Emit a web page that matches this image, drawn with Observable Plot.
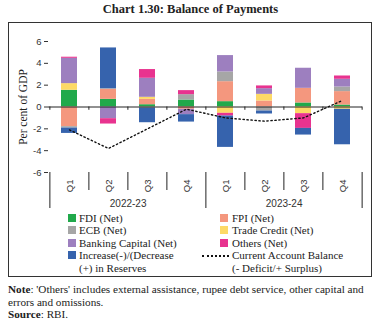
<!DOCTYPE html>
<html><head><meta charset="utf-8">
<script src="https://cdn.jsdelivr.net/npm/d3@7"></script>
<script src="https://cdn.jsdelivr.net/npm/@observablehq/plot@0.6"></script>
<style>
body{margin:0;background:#fff;}
#root{position:relative;width:381px;height:336px;font-family:"Liberation Serif",serif;color:#222;overflow:hidden;}
#title{position:absolute;top:2px;left:0;width:381px;text-align:center;font-weight:bold;font-size:12.5px;}
#box{position:absolute;left:8px;top:22px;width:362px;height:253px;border:1px solid #333;}
#chart{position:absolute;left:0;top:23px;}
#legend{position:absolute;top:212px;left:0;width:381px;font-size:11px;line-height:12.4px;}
.col{position:absolute;top:0;}
.item{display:flex;align-items:flex-start;}
.key{position:relative;height:12.4px;flex:none;}
.sw{position:absolute;top:2px;width:8px;height:8px;}
.dash{position:absolute;top:6px;left:0;width:27px;border-top:2px dotted #111;}
#notes{position:absolute;top:283px;left:8px;width:373px;font-size:11.2px;line-height:12.5px;white-space:nowrap;}
</style></head>
<body><div id="root">
<div id="title">Chart 1.30: Balance of Payments</div>
<div id="box"></div>
<div id="chart"></div>
<div id="legend"></div>
<div id="notes"><b>Note</b>: 'Others' includes external assistance, rupee debt service, other capital and<br>errors and omissions.<br><b>Source</b>: RBI.</div>
</div>
<script>
const years = ["2022-23", "2023-24"];
const quarters = ["Q1", "Q2", "Q3", "Q4"];
const seriesNames = ["FDI (Net)", "FPI (Net)", "ECB (Net)", "Trade Credit (Net)", "Banking Capital (Net)", "Others (Net)", "Increase(-)/(Decrease (+) in Reserves"];
const seriesColors = ["#21a94b", "#f4977e", "#a6a6a6", "#fdd966", "#9d7fbf", "#e8338f", "#3663ad"];
// values per quarter, 2022-23 Q1..Q4 then 2023-24 Q1..Q4 (per cent of GDP)
const fdi = [1.53, 0.70, 0.21, 0.64, 0.49, 0.00, 0.37, 0.18];
const fpi = [-1.80, 0.92, 0.49, -0.21, 1.83, 0.55, 1.34, 1.23];
const ecb = [-0.13, 0.05, -0.10, 0.49, 0.89, -0.37, 0.00, 0.42];
const tradeCredit = [0.61, 0.00, 0.19, 0.00, -0.58, 0.61, -0.61, -0.21];
const banking = [2.32, -1.07, 1.74, -0.49, 1.50, 0.52, 1.84, 0.71];
const others = [0.10, -0.49, 0.80, 0.37, -0.25, 0.25, -1.35, 0.30];
const reserves = [-0.49, 3.74, -1.34, -0.68, -2.87, -0.27, -0.61, -3.25];
const cab = [-2.1, -3.8, -2.0, -0.2, -1.0, -1.3, -1.0, 0.6];
const yTicks = [-6, -4, -2, 0, 2, 4, 6];
const cabLabel = "Current Account Balance (- Deficit/+ Surplus)";

const seriesValues = [fdi, fpi, ecb, tradeCredit, banking, others, reserves];
const periods = years.flatMap(y => quarters.map(q => `${y} ${q}`));
const rows = [];
periods.forEach((p, i) => seriesNames.forEach((s, k) => rows.push({period: p, series: s, value: seriesValues[k][i]})));
const cabRows = periods.map((p, i) => ({period: p, cab: cab[i]}));

const W = 381, ML = 48, MR = 19;
const step = (W - ML - MR) / periods.length;
const sans = "'Liberation Sans', Arial, sans-serif";
const firstOfYear = years.map(y => `${y} Q1`);
const innerQ = periods.filter(p => !p.endsWith("Q1"));
const lastP = periods[periods.length - 1];

const plot = Plot.plot({
  width: W, height: 190,
  marginLeft: ML, marginRight: MR, marginTop: 18, marginBottom: 41,
  style: {fontFamily: sans, fontSize: "9.5px", color: "#333", background: "transparent", overflow: "visible"},
  x: {domain: periods, paddingInner: 0.59, paddingOuter: 0.295},
  y: {domain: [-6, 6]},
  color: {domain: seriesNames, range: seriesColors},
  marks: [
    Plot.barY(rows, {x: "period", y: "value", fill: "series"}),
    Plot.ruleY([0], {stroke: "#222", strokeWidth: 1}),
    Plot.ruleX(periods, {x: d => d, y1: 0, y2: -0.3, dx: -step / 2, stroke: "#222"}),
    Plot.ruleX([lastP], {x: d => d, y1: 0, y2: -0.3, dx: step / 2, stroke: "#222"}),
    Plot.line(cabRows, {x: "period", y: "cab", stroke: "#111", strokeWidth: 1.4, strokeDasharray: "1.4,2.6"}),
    Plot.axisY({ticks: yTicks, tickSize: 4, tickPadding: 3, tickFormat: d => String(d), label: null, stroke: "#333"}),
    Plot.text(["Per cent of GDP"], {frameAnchor: "left", textAnchor: "middle", rotate: -90, dx: -25, fontFamily: "'Liberation Serif', serif", fontSize: 11.5, fill: "#222"}),
    Plot.axisX({tickRotate: -90, tickSize: 0, tickPadding: 7, tickFormat: d => d.split(" ")[1], label: null}),
    Plot.axisX(innerQ, {tickSize: 18, dx: -step / 2, tickFormat: () => "", label: null, stroke: "#222"}),
    Plot.axisX(firstOfYear, {tickSize: 36, dx: -step / 2, tickFormat: () => "", label: null, stroke: "#222"}),
    Plot.axisX([lastP], {tickSize: 36, dx: step / 2, tickFormat: () => "", label: null, stroke: "#222"}),
    Plot.axisX(years.map(y => `${y} Q2`), {tickSize: 0, tickPadding: 27, dx: step / 2, tickFormat: d => d.split(" ")[0], label: null, fontSize: 10})
  ]
});
document.getElementById("chart").appendChild(plot);

// legend
const legend = document.getElementById("legend");
const left = document.createElement("div"); left.className = "col"; left.style.left = "68px";
const right = document.createElement("div"); right.className = "col"; right.style.left = "202px";
legend.append(left, right);
const leftIdx = [0, 2, 4, 6], rightIdx = [1, 3, 5];
function addItem(col, keyWidth, swLeft, color, label, dotted) {
  const it = document.createElement("div"); it.className = "item";
  const key = document.createElement("div"); key.className = "key"; key.style.width = keyWidth + "px";
  const sw = document.createElement("div");
  if (dotted) { sw.className = "dash"; } else { sw.className = "sw"; sw.style.left = swLeft + "px"; sw.style.background = color; }
  key.appendChild(sw);
  const tx = document.createElement("div");
  if (label.startsWith("Increase")) { tx.innerHTML = "Increase(-)/(Decrease<br>(+) in Reserves"; }
  else if (dotted) { tx.innerHTML = "Current Account Balance<br>(- Deficit/+ Surplus)"; }
  else tx.textContent = label;
  it.append(key, tx); col.appendChild(it);
}
leftIdx.forEach(i => addItem(left, 11, 0, seriesColors[i], seriesNames[i]));
rightIdx.forEach(i => addItem(right, 30, 18, seriesColors[i], seriesNames[i]));
addItem(right, 30, 0, "#111", cabLabel, true);
</script>
</body></html>
